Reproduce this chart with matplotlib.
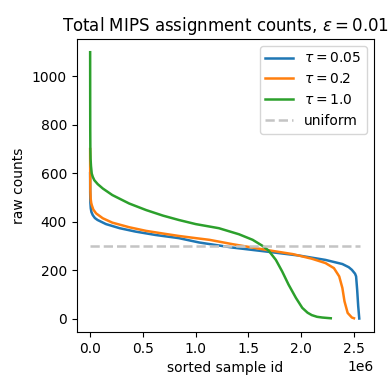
"""Sorted MIPS assignment counts per sample for three temperatures."""
import matplotlib
matplotlib.use("Agg")
import matplotlib.pyplot as plt

# ── data (x in 1e6 samples, y in counts) ───────────────────────────────────
x_t005 = [0.0, 0.0005, 0.002, 0.006, 0.012, 0.025, 0.045, 0.07, 0.15, 0.28,
          0.43, 0.62, 0.84, 1.033, 1.35, 1.66, 1.98, 2.23, 2.39, 2.45, 2.48,
          2.51, 2.52, 2.53, 2.54, 2.55]
y_t005 = [600, 520, 480, 455, 440, 427, 415, 407, 390, 373,
          359, 345, 332, 314, 293, 277, 260, 242, 225, 212, 201,
          185, 174, 119, 51, 0]

x_t02 = [0.0, 0.0005, 0.002, 0.005, 0.01, 0.015, 0.03, 0.057, 0.12, 0.21,
         0.37, 0.53, 0.69, 0.84, 1.0, 1.13, 1.35, 1.66, 1.92, 2.10, 2.23,
         2.31, 2.36, 2.39, 2.41, 2.44, 2.48, 2.50]
y_t02 = [700, 600, 530, 495, 478, 469, 450, 434, 414, 396,
         377, 362, 351, 341, 332, 325, 307, 284, 266, 247, 229,
         208, 174, 126, 71, 23, 4, 1]

x_t1 = [0.0, 0.0005, 0.001, 0.002, 0.004, 0.008, 0.015, 0.025, 0.04, 0.072,
        0.12, 0.21, 0.37, 0.53, 0.69, 0.84, 1.0, 1.22, 1.41, 1.54, 1.63,
        1.69, 1.76, 1.82, 1.88, 1.95, 2.01, 2.06, 2.10, 2.15, 2.20, 2.28]
y_t1 = [1100, 900, 780, 700, 660, 630, 599, 585, 571, 555,
        537, 510, 475, 448, 425, 407, 390, 373, 348, 325, 301,
        281, 242, 194, 140, 85, 44, 24, 14, 7, 4, 1]

n_samples = 2.56e6
uniform = 300

series = [("$\\tau = 0.05$", x_t005, y_t005),
          ("$\\tau = 0.2$", x_t02, y_t02),
          ("$\\tau = 1.0$", x_t1, y_t1)]

fig, ax = plt.subplots(figsize=(3.89, 3.89), dpi=100)
for label, xs, ys in series:
    ax.plot([v * 1e6 for v in xs], ys, lw=1.8, label=label)
ax.plot([0, n_samples], [uniform, uniform], ls="--", lw=1.8, color="#c4c4c4",
        label="uniform")

ax.set_title("Total MIPS assignment counts, $\\epsilon = 0.01$")
ax.set_xlabel("sorted sample id")
ax.set_ylabel("raw counts")
ax.legend(loc="upper right")

fig.subplots_adjust(left=0.197, right=0.961, bottom=0.147, top=0.9)
fig.savefig("out.png", dpi=100)
